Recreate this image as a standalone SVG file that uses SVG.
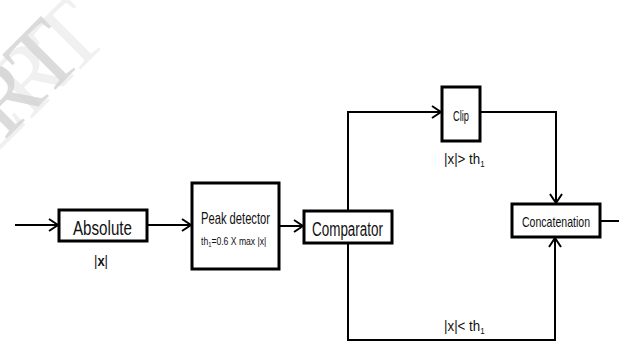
<svg xmlns="http://www.w3.org/2000/svg" width="619" height="343" viewBox="0 0 619 343">
<style>
.box{fill:#fff;stroke:#000;stroke-width:3}
.wire{fill:none;stroke:#000;stroke-width:2}
.t{font-family:"Liberation Sans Narrow","Liberation Sans",sans-serif;fill:#111}
.wm{font-family:"Liberation Serif",serif;font-size:95px}
</style>
<defs>
<marker id="arr" markerUnits="userSpaceOnUse" markerWidth="12" markerHeight="14" viewBox="0 0 12 14" refX="11" refY="7" orient="auto">
<path d="M2,1 L11,7 L2,13" fill="none" stroke="#000" stroke-width="2"/>
</marker>
</defs>
<g id="watermark">
<text class="wm" fill="#f0f0f0" text-anchor="end" transform="translate(111,39) rotate(-45)">IJERT</text>
<text class="wm" fill="#d2d2d2" fill-opacity="0.8" text-anchor="end" transform="translate(86,59) rotate(-45)">IJERT</text>
</g>
<g id="connectors">
<line class="wire" x1="15" y1="225" x2="58" y2="225" marker-end="url(#arr)"/>
<line class="wire" x1="147" y1="225" x2="191" y2="225" marker-end="url(#arr)"/>
<line class="wire" x1="279" y1="226" x2="303" y2="226" marker-end="url(#arr)"/>
<polyline class="wire" points="348,211 348,112 441,112" marker-end="url(#arr)"/>
<polyline class="wire" points="480,112 556,112 556,203" marker-end="url(#arr)"/>
<polyline class="wire" points="348,243 348,340 555,340 555,238" marker-end="url(#arr)"/>
<line class="wire" x1="600" y1="221" x2="619" y2="221"/>
</g>
<g id="absolute">
<rect class="box" x="59" y="210" width="88" height="31"/>
<text class="t" x="73" y="235" font-size="21" textLength="59" lengthAdjust="spacingAndGlyphs">Absolute</text>
<text class="t" x="94" y="266" font-size="14" textLength="14" lengthAdjust="spacingAndGlyphs">|<tspan font-weight="bold">x</tspan>|</text>
</g>
<g id="peak">
<rect class="box" x="192" y="183" width="87" height="86"/>
<text class="t" x="201" y="224" font-size="17" textLength="69" lengthAdjust="spacingAndGlyphs">Peak detector</text>
<text class="t" font-size="10.5" transform="translate(201,245) scale(0.82,1)">th<tspan font-size="7" dy="2">1</tspan><tspan dy="-2">=0.6 X max |x|</tspan></text>
</g>
<g id="comparator">
<rect class="box" x="304" y="211" width="88" height="32"/>
<text class="t" x="312" y="236" font-size="20" textLength="71" lengthAdjust="spacingAndGlyphs">Comparator</text>
</g>
<g id="clip">
<rect class="box" x="442" y="87" width="38" height="54"/>
<text class="t" x="453" y="121" font-size="14" textLength="16" lengthAdjust="spacingAndGlyphs">Clip</text>
<text class="t" font-size="15" transform="translate(444,164) scale(0.89,1)">|x|&gt; th<tspan font-size="9" dy="3">1</tspan></text>
</g>
<g id="concatenation">
<rect class="box" x="512" y="204" width="88" height="33"/>
<text class="t" x="522" y="227" font-size="15" textLength="68" lengthAdjust="spacingAndGlyphs">Concatenation</text>
</g>
<g id="lower-label">
<text class="t" font-size="15" transform="translate(444,331) scale(0.89,1)">|x|&lt; th<tspan font-size="9" dy="3">1</tspan></text>
</g>
</svg>
